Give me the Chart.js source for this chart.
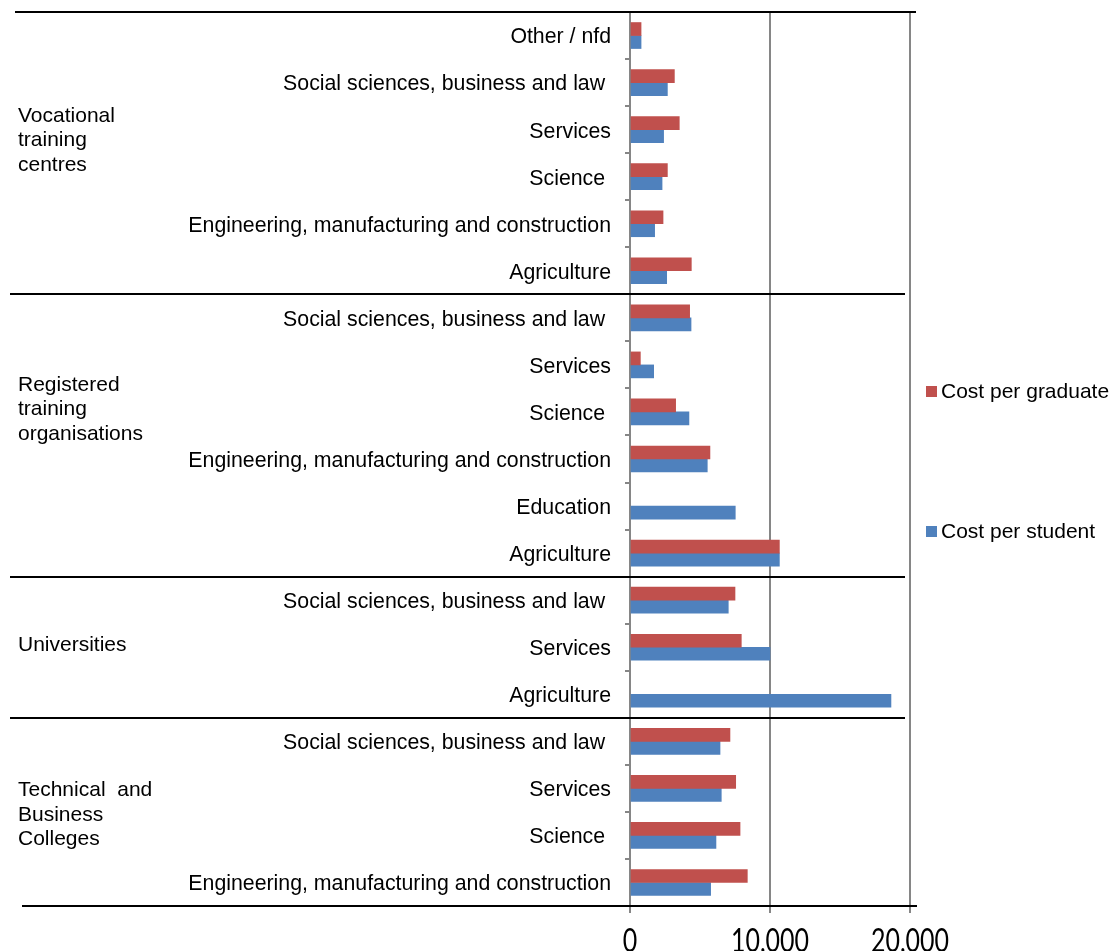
<!DOCTYPE html>
<html>
<head>
<meta charset="utf-8">
<title>Cost per student and per graduate</title>
<script src="https://cdn.jsdelivr.net/npm/chart.js@4"></script>
<style>
  html, body { margin: 0; padding: 0; background: #fff; }
  #wrap { width: 1113px; height: 951px; }
</style>
</head>
<body>
<div id="wrap"><canvas id="myChart" width="1113" height="951"></canvas></div>
<script>
// fields of education, top to bottom
const fields = [
  'Other / nfd',
  'Social sciences, business and law ',
  'Services',
  'Science ',
  'Engineering, manufacturing and construction',
  'Agriculture',
  'Social sciences, business and law ',
  'Services',
  'Science ',
  'Engineering, manufacturing and construction',
  'Education',
  'Agriculture',
  'Social sciences, business and law ',
  'Services',
  'Agriculture',
  'Social sciences, business and law ',
  'Services',
  'Science ',
  'Engineering, manufacturing and construction'
];

// provider types and how many fields each one covers
const providers = [
  ['Vocational', 'training', 'centres'],
  ['Registered', 'training', 'organisations'],
  ['Universities'],
  ['Technical  and', 'Business', 'Colleges']
];
const providerSizes = [6, 6, 3, 4];

const costPerGraduate = [
  790, 3170, 3520, 2670, 2360, 4380,
  4260, 740, 3260, 5710, null, 10670,
  7500, 7950, null,
  7140, 7550, 7860, 8380
];
const costPerStudent = [
  790, 2670, 2400, 2290, 1760, 2620,
  4360, 1690, 4210, 5520, 7520, 10670,
  7020, 10000, 18640,
  6430, 6520, 6140, 5760
];

const xTicks = [0, 10000, 20000];

const labelFont = '"Liberation Sans", Arial, sans-serif';

// provider names, horizontal rules, x labels and the legend
const frame = {
  id: 'frame',
  afterDraw(chart) {
    const ctx = chart.ctx;
    const area = chart.chartArea;
    const y = chart.scales.y;
    const x = chart.scales.x;
    const rowH = y.getPixelForValue(1) - y.getPixelForValue(0);
    const edge = i => y.getPixelForValue(i) - rowH / 2;

    ctx.save();
    ctx.strokeStyle = '#000';
    ctx.lineWidth = 2;
    const rule = (x1, x2, yy) => {
      ctx.beginPath();
      ctx.moveTo(x1, Math.round(yy));
      ctx.lineTo(x2, Math.round(yy));
      ctx.stroke();
    };
    rule(15, area.right + 6, area.top);
    let start = 0;
    providerSizes.forEach((n, k) => {
      const end = start + n;
      if (k < providerSizes.length - 1) rule(10, area.right - 5, edge(end));
      start = end;
    });
    rule(22, area.right + 7, area.bottom);

    // provider names, a little above the middle of their block
    const lift = [0.27, 0.55, 0.05, -0.06];
    ctx.fillStyle = '#000';
    ctx.font = '21px ' + labelFont;
    ctx.textAlign = 'left';
    ctx.textBaseline = 'middle';
    start = 0;
    providers.forEach((lines, k) => {
      const n = providerSizes[k];
      const mid = y.getPixelForValue(start + (n - 1) / 2 - lift[k]);
      const lh = 24.5;
      lines.forEach((t, j) => {
        ctx.fillText(t, 18, mid + (j - (lines.length - 1) / 2) * lh);
      });
      start += n;
    });

    // x tick labels, drawn tall and narrow
    ctx.font = '25px Lato, "Open Sans", sans-serif';
    ctx.textAlign = 'center';
    ctx.textBaseline = 'top';
    x.ticks.forEach(t => {
      ctx.save();
      ctx.translate(x.getPixelForValue(t.value), area.bottom + 19);
      ctx.scale(1, 1.3);
      ctx.fillText(t.value.toLocaleString('en-US'), 0, 0);
      ctx.restore();
    });

    // legend at the right, spread around the middle of the plot
    ctx.font = '21px ' + labelFont;
    ctx.textAlign = 'left';
    ctx.textBaseline = 'middle';
    const midY = (area.top + area.bottom) / 2;
    chart.data.datasets.forEach((ds, i) => {
      const ly = midY + (i === 0 ? -67 : 73);
      ctx.fillStyle = ds.backgroundColor;
      ctx.fillRect(area.right + 16, ly - 6, 11, 11);
      ctx.fillStyle = '#000';
      ctx.fillText(ds.label, area.right + 31, ly);
    });
    ctx.restore();
  }
};

new Chart(document.getElementById('myChart'), {
  type: 'bar',
  data: {
    labels: fields,
    datasets: [
      { label: 'Cost per graduate', data: costPerGraduate, backgroundColor: '#C0504D', barThickness: 13 },
      { label: 'Cost per student', data: costPerStudent, backgroundColor: '#4F81BD', barThickness: 13 }
    ]
  },
  options: {
    indexAxis: 'y',
    responsive: false,
    animation: false,
    devicePixelRatio: 1,
    layout: { padding: { top: 12, right: 203, left: 0, bottom: 0 } },
    plugins: {
      legend: { display: false },
      tooltip: { enabled: false }
    },
    scales: {
      x: {
        min: 0,
        max: 20000,
        afterBuildTicks: s => { s.ticks = xTicks.map(v => ({ value: v })); },
        afterFit: s => { s.height = 45; s.paddingLeft = 0; s.paddingRight = 0; },
        border: { display: false },
        grid: { color: '#868686', lineWidth: 2, tickLength: 7 },
        ticks: { display: false }
      },
      y: {
        afterFit: s => { s.width = 630; s.paddingTop = 0; s.paddingBottom = 0; },
        border: { color: '#868686', width: 2 },
        grid: { drawOnChartArea: false, color: '#868686', lineWidth: 2, tickLength: 5 },
        ticks: {
          color: '#000',
          padding: 14,
          labelOffset: 2,
          autoSkip: false,
          font: { family: labelFont, size: 21.3 }
        }
      }
    }
  },
  plugins: [frame]
});
</script>
</body>
</html>
